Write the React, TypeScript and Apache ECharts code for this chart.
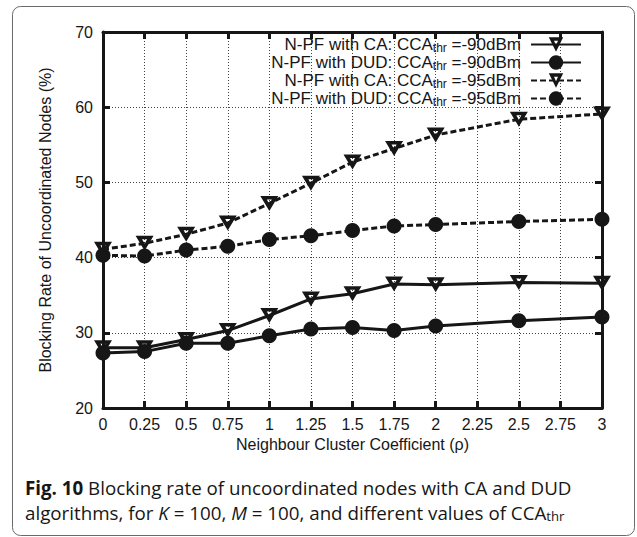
import React, { useEffect, useRef } from 'react';
import * as echarts from 'echarts';

// ---- data ----
const xValues = [0, 0.25, 0.5, 0.75, 1, 1.25, 1.5, 1.75, 2, 2.5, 3];
const caNeg90 = [28.0, 28.0, 29.1, 30.3, 32.3, 34.5, 35.2, 36.5, 36.4, 36.7, 36.6];
const dudNeg90 = [27.3, 27.5, 28.6, 28.6, 29.6, 30.5, 30.7, 30.3, 30.9, 31.6, 32.1];
const caNeg95 = [41.1, 41.9, 43.1, 44.6, 47.2, 49.9, 52.7, 54.5, 56.3, 58.4, 59.1];
const dudNeg95 = [40.3, 40.2, 41.0, 41.5, 42.4, 42.9, 43.6, 44.2, 44.4, 44.8, 45.1];

const seriesNames = [
  'N-PF with CA: CCA_thr =-90dBm',
  'N-PF with DUD: CCA_thr =-90dBm',
  'N-PF with CA: CCA_thr =-95dBm',
  'N-PF with DUD: CCA_thr =-95dBm',
];
const xAxisName = 'Neighbour Cluster Coefficient (\u03c1)';
const yAxisName = 'Blocking Rate of Uncoordinated Nodes (%)';
const captionBold = 'Fig. 10';
const captionLine1 = ' Blocking rate of uncoordinated nodes with CA and DUD';

const FONT = '"Liberation Sans", Arial, Helvetica, sans-serif';
const CAP_FAMILY = 'Open Sans';
const INK = '#161616';

const TRIANGLE = 'path://M0,0L18,0L9,15Z M6.5,3.5L9,8.2L11.5,3.5Z';

function fitFont(parts: { text: string; weight: string }[], family: string, target: number) {
  const c = document.createElement('canvas').getContext('2d');
  if (!c) return 18;
  let w = 0;
  for (const p of parts) {
    c.font = `${p.weight} 100px "${family}"`;
    w += c.measureText(p.text).width;
  }
  return (100 * target) / w;
}

export default function App() {
  const ref = useRef<HTMLDivElement>(null);
  useEffect(() => {
    if (!ref.current) return;
    const chart = echarts.init(ref.current, undefined, { renderer: 'svg' });
    const capSize = Math.min(
      20,
      fitFont(
        [
          { text: captionBold, weight: 'bold' },
          { text: captionLine1, weight: 'normal' },
        ],
        CAP_FAMILY,
        547
      )
    );
    const mk = (vals: number[]) => xValues.map((x, i) => [x, vals[i]]);
    const allVals = [caNeg90, dudNeg90, caNeg95, dudNeg95];
    const series = allVals.map((vals, i) => ({
      name: seriesNames[i],
      type: 'line',
      data: mk(vals),
      symbol: i % 2 === 0 ? TRIANGLE : 'circle',
      symbolSize: i % 2 === 0 ? [18, 15] : 15,
      itemStyle: { color: INK },
      lineStyle: { color: INK, width: 3, type: i < 2 ? 'solid' : [6, 3] },
      z: 3 + i,
    }));
    const axisCommon = {
      type: 'value',
      axisLine: { show: true, onZero: false, lineStyle: { color: INK, width: 3 } },
      axisTick: { show: true, inside: true, length: 7, lineStyle: { color: INK, width: 3 } },
    };
    const option: any = {
      animation: false,
      grid: { left: 103, right: 35, top: 32, bottom: 129, containLabel: false },
      legend: {
        data: seriesNames,
        orient: 'vertical',
        align: 'right',
        right: 55,
        top: 36,
        padding: 0,
        itemWidth: 50,
        itemHeight: 18,
        itemGap: 0,
        selectedMode: false,
        formatter: (name: string) => name.replace('_thr', '{sub|thr}') + '{g| }',
        textStyle: {
          fontFamily: FONT,
          fontSize: 17,
          color: INK,
          rich: {
            sub: { fontFamily: FONT, fontSize: 12, color: INK, padding: [7, 0, 0, 0] },
            g: { fontFamily: FONT, fontSize: 17, width: 5 },
          },
        },
      },
      xAxis: [
        {
          ...axisCommon,
          position: 'bottom',
          min: 0,
          max: 3,
          interval: 0.25,
          axisLabel: { margin: 8, fontSize: 16, fontFamily: FONT, color: INK },
          splitLine: { show: true, lineStyle: { color: '#444', width: 1, type: [1, 2] } },
          name: xAxisName,
          nameLocation: 'middle',
          nameGap: 28,
          nameTextStyle: { fontSize: 16, fontFamily: FONT, color: INK },
        },
        {
          ...axisCommon,
          position: 'top',
          min: 0,
          max: 3,
          interval: 0.25,
          axisLabel: { show: false },
          splitLine: { show: false },
        },
      ],
      yAxis: [
        {
          ...axisCommon,
          position: 'left',
          min: 20,
          max: 70,
          interval: 10,
          axisLabel: { margin: 10, fontSize: 16, fontFamily: FONT, color: INK },
          splitLine: { show: true, lineStyle: { color: '#444', width: 1, type: [1, 2] } },
          name: yAxisName,
          nameLocation: 'middle',
          nameGap: 50,
          nameTextStyle: { fontSize: 16, fontFamily: FONT, color: INK },
        },
        {
          ...axisCommon,
          position: 'right',
          min: 20,
          max: 70,
          interval: 10,
          axisLabel: { show: false },
          splitLine: { show: false },
        },
      ],
      series,
      graphic: [
        {
          type: 'rect',
          silent: true,
          z: -10,
          shape: { x: 12.5, y: 6.5, width: 622, height: 529, r: 8 },
          style: { fill: 'none', stroke: '#6a6a6a', lineWidth: 1 },
        },
        {
          type: 'text',
          x: 25,
          y: 487,
          style: {
            text: `{b|${captionBold}}${captionLine1}`,
            fontFamily: CAP_FAMILY,
            fontSize: capSize,
            fill: INK,
            verticalAlign: 'middle',
            rich: {
              b: { fontFamily: CAP_FAMILY, fontSize: capSize, fontWeight: 'bold', fill: INK },
            },
          },
        },
        {
          type: 'text',
          x: 25,
          y: 512,
          style: {
            text: 'algorithms, for {i|K} = 100, {i|M} = 100, and different values of CCA{sub|thr}',
            fontFamily: CAP_FAMILY,
            fontSize: capSize,
            fill: INK,
            verticalAlign: 'middle',
            rich: {
              i: { fontFamily: CAP_FAMILY, fontSize: capSize, fontStyle: 'italic', fill: INK },
              sub: {
                fontFamily: CAP_FAMILY,
                fontSize: capSize * 0.7,
                fill: INK,
                padding: [capSize * 0.45, 0, 0, 0],
              },
            },
          },
        },
      ],
    };
    chart.setOption(option);
    return () => chart.dispose();
  }, []);
  return (
    <div
      ref={ref}
      style={{ position: 'absolute', left: 0, top: 0, width: 637, height: 537, background: '#fff' }}
    />
  );
}
